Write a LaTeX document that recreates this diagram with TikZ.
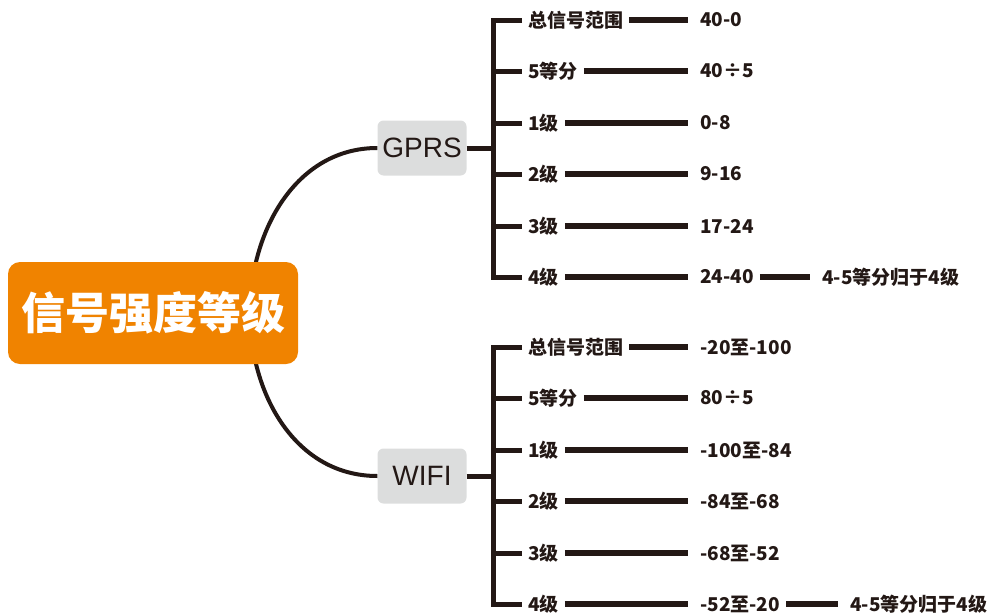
\documentclass[tikz,border=0pt]{standalone}
\usepackage{fontspec}
\setmainfont{Liberation Sans}
\newfontfamily\cjk{Noto Sans CJK SC}
\definecolor{lineclr}{HTML}{231815}
\definecolor{rootclr}{HTML}{F08300}
\definecolor{topicclr}{HTML}{DCDDDD}
\tikzset{
	rootbox/.style={fill=rootclr, rounded corners=12pt, minimum width=290pt, minimum height=102pt, text=white, font=\cjk\bfseries\fontsize{44}{44}\selectfont},
	topic/.style={fill=topicclr, rounded corners=6pt, minimum width=89pt, minimum height=55pt, text=lineclr, font=\fontsize{28}{28}\selectfont},
	leaf/.style={anchor=west, inner xsep=6pt, inner ysep=2pt, text=lineclr, font=\cjk\bfseries\fontsize{19}{19}\selectfont},
	branch/.style={draw=lineclr, line width=5pt},
	link/.style={draw=lineclr, line width=5.5pt, shorten >=6pt},
	curve/.style={draw=lineclr, line width=4pt}
}
\begin{document}
\begin{tikzpicture}[x=1pt,y=-1pt]
			\useasboundingbox (0,0) rectangle (992,613);

			\node[topic] (gprs) at (422,148) {GPRS};
			\node[topic] (wifi) at (422,476) {WIFI};
			\coordinate (rootout) at (250,313);
			\draw[curve] (rootout) .. controls (250,231) and (296,148) .. (gprs.west);
			\draw[curve] (rootout) .. controls (250,395) and (296,476) .. (wifi.west);
			\node[rootbox] (root) at (153,313) {信号强度等级};

			% GPRS
			\node[leaf] (g0) at (522,20) {总信号范围};
			\node[leaf] (g1) at (522,71) {5等分};
			\node[leaf] (g2) at (522,123) {1级};
			\node[leaf] (g3) at (522,174) {2级};
			\node[leaf] (g4) at (522,226) {3级};
			\node[leaf] (g5) at (522,277) {4级};
			\node[leaf] (gv0) at (694,20) {40-0};
			\node[leaf] (gv1) at (694,71) {40÷5};
			\node[leaf] (gv2) at (694,123) {0-8};
			\node[leaf] (gv3) at (694,174) {9-16};
			\node[leaf] (gv4) at (694,226) {17-24};
			\node[leaf] (gv5) at (694,277) {24-40};
			\node[leaf] (gnote) at (816,277) {4-5等分归于4级};

			\coordinate (gj) at (493,148);
			\draw[branch] (gprs.east) -- (gj);
			\draw[branch] (g0.west) -| (gj) |- (g5.west);
			\draw[branch] (gj |- g1.west) -- (g1.west);
			\draw[branch] (gj |- g2.west) -- (g2.west);
			\draw[branch] (gj |- g3.west) -- (g3.west);
			\draw[branch] (gj |- g4.west) -- (g4.west);
			\draw[link] (g0) -- (gv0);
			\draw[link] (g1) -- (gv1);
			\draw[link] (g2) -- (gv2);
			\draw[link] (g3) -- (gv3);
			\draw[link] (g4) -- (gv4);
			\draw[link] (g5) -- (gv5);
			\draw[link] (gv5) -- (gnote);

			% WIFI
			\node[leaf] (w0) at (522,347) {总信号范围};
			\node[leaf] (w1) at (522,398) {5等分};
			\node[leaf] (w2) at (522,450) {1级};
			\node[leaf] (w3) at (522,501) {2级};
			\node[leaf] (w4) at (522,553) {3级};
			\node[leaf] (w5) at (522,604) {4级};
			\node[leaf] (wv0) at (694,347) {-20至-100};
			\node[leaf] (wv1) at (694,398) {80÷5};
			\node[leaf] (wv2) at (694,450) {-100至-84};
			\node[leaf] (wv3) at (694,501) {-84至-68};
			\node[leaf] (wv4) at (694,553) {-68至-52};
			\node[leaf] (wv5) at (694,604) {-52至-20};
			\node[leaf] (wnote) at (844,604) {4-5等分归于4级};

			\coordinate (wj) at (493,476);
			\draw[branch] (wifi.east) -- (wj);
			\draw[branch] (w0.west) -| (wj) |- (w5.west);
			\draw[branch] (wj |- w1.west) -- (w1.west);
			\draw[branch] (wj |- w2.west) -- (w2.west);
			\draw[branch] (wj |- w3.west) -- (w3.west);
			\draw[branch] (wj |- w4.west) -- (w4.west);
			\draw[link] (w0) -- (wv0);
			\draw[link] (w1) -- (wv1);
			\draw[link] (w2) -- (wv2);
			\draw[link] (w3) -- (wv3);
			\draw[link] (w4) -- (wv4);
			\draw[link] (w5) -- (wv5);
			\draw[link] (wv5) -- (wnote);
		\end{tikzpicture}
\end{document}
